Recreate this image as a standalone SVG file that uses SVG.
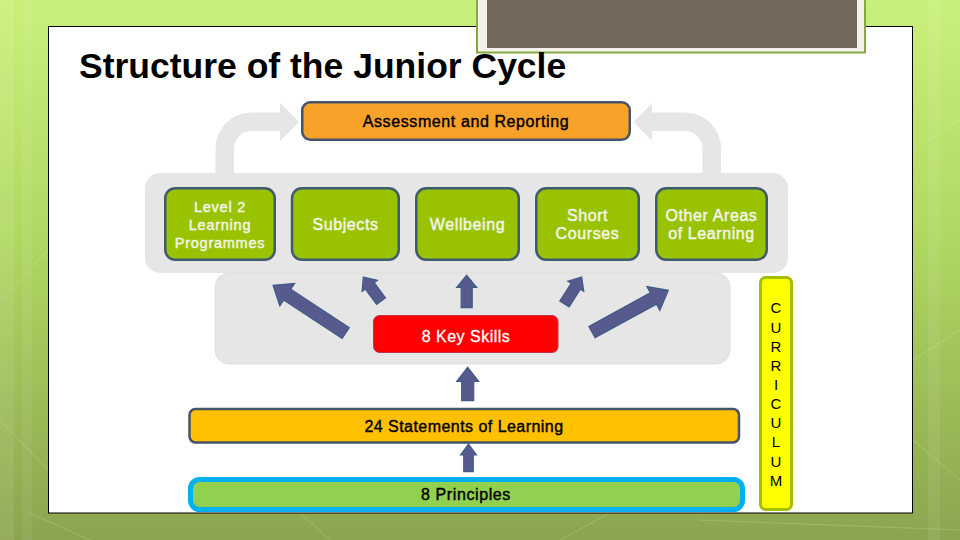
<svg xmlns="http://www.w3.org/2000/svg" width="960" height="540" viewBox="0 0 960 540">
  <defs>
    <linearGradient id="bg" x1="0" y1="0" x2="0" y2="1">
      <stop offset="0" stop-color="#c9f07b"/>
      <stop offset="0.45" stop-color="#afd762"/>
      <stop offset="1" stop-color="#8ba54f"/>
    </linearGradient>
    <style>
      .panel { fill:#e6e6e6; }
      .node rect { fill:#99c300; stroke:#3f5b6e; stroke-width:2.5; }
      .nt { font-family:"Liberation Sans", Arial, sans-serif; font-size:16px; letter-spacing:0.6px; fill:#f4f4ea; stroke:#f4f4ea; stroke-width:0.45px; text-anchor:middle; }
      .dt { font-family:"Liberation Sans", Arial, sans-serif; font-size:16px; letter-spacing:0.55px; fill:#000000; stroke:#000000; stroke-width:0.4px; text-anchor:middle; }
      .ct { font-family:"Liberation Sans", Arial, sans-serif; font-size:15px; fill:#000000; text-anchor:middle; }
      .ba { fill:#575a8c; stroke:#3e5c87; stroke-width:1.2; stroke-linejoin:miter; }
      .loop { fill:#e6e6e6; }
      .deco { stroke:#ffffff; stroke-opacity:0.18; stroke-width:1; fill:none; }
    </style>
  </defs>

  <!-- background -->
  <rect x="0" y="0" width="960" height="540" fill="url(#bg)"/>
  <rect x="0" y="0" width="14" height="540" fill="#ffffff" fill-opacity="0.08"/>
  <rect x="22" y="0" width="10" height="540" fill="#ffffff" fill-opacity="0.06"/>
  <rect x="928" y="0" width="12" height="540" fill="#ffffff" fill-opacity="0.07"/>
  <path class="deco" d="M0 300 L48 250 M0 420 L48 470 M30 513 L90 540 M300 513 L330 540 M610 513 L560 540 M700 520 L960 530 M913 360 L960 330 M913 150 L960 120 M913 440 L960 480"/>

  <!-- white slide panel -->
  <rect x="48.5" y="26.5" width="864" height="486.5" fill="#ffffff" stroke="#000000" stroke-width="1"/>

  <!-- top brown frame -->
  <rect x="477" y="-5" width="388" height="57.5" fill="#f3f1ea" stroke="#86a83c" stroke-width="2"/>
  <rect x="487" y="0" width="370" height="48" fill="#736a5b"/>

  <!-- title -->
  <text x="79" y="77.5" font-family="'Liberation Sans', Arial, sans-serif" font-weight="bold" font-size="35.5" fill="#000000">Structure of the Junior Cycle</text>

  <!-- grey backing panels -->
  <rect class="panel" x="145" y="173" width="643" height="100" rx="15"/>
  <rect class="panel" x="215" y="273" width="515" height="91" rx="14" stroke="#dcdcdc" stroke-width="0.8"/>

  <g id="connectors">
    <!-- grey loop arrows to Assessment and Reporting -->
    <path class="loop" d="M 234 175 L 234 148.5 A 17.5 17.5 0 0 1 251.5 131 L 280 131 L 280 141 L 299 122 L 280 103 L 280 112.5 L 251.5 112.5 A 36 36 0 0 0 215.5 148.5 L 215.5 175 Z"/>
    <path class="loop" d="M 702.5 175 L 702.5 148.5 A 17.5 17.5 0 0 0 685 131 L 652 131 L 652 141 L 633.5 122 L 652 103 L 652 112.5 L 685 112.5 A 36 36 0 0 1 721 148.5 L 721 175 Z"/>

    <!-- blue arrows from 8 Key Skills -->
    <polygon class="ba" transform="translate(273,285.3) rotate(-56.7)" points="0,0 13.5,17 6.5,17 6.5,87 -6.5,87 -6.5,17 -13.5,17"/>
    <polygon class="ba" transform="translate(363.3,277) rotate(-36.2)" points="0,0 9.5,11 5.5,11 5.5,30 -5.5,30 -5.5,11 -9.5,11"/>
    <polygon class="ba" transform="translate(466.7,275.3)" points="0,0 10,12 5.5,12 5.5,32.4 -5.5,32.4 -5.5,12 -10,12"/>
    <polygon class="ba" transform="translate(581.7,277) rotate(32.6)" points="0,0 9.5,11 5.5,11 5.5,32 -5.5,32 -5.5,11 -9.5,11"/>
    <polygon class="ba" transform="translate(668.3,290.3) rotate(61.3)" points="0,0 13.5,17 6.5,17 6.5,87 -6.5,87 -6.5,17 -13.5,17"/>

    <!-- Statements to Key Skills -->
    <polygon class="ba" transform="translate(467.7,367.3)" points="0,0 11,14 6,14 6,33.4 -6,33.4 -6,14 -11,14"/>
    <!-- Principles to Statements -->
    <polygon class="ba" transform="translate(468.5,444)" points="0,0 8,11 4.75,11 4.75,27.7 -4.75,27.7 -4.75,11 -8,11"/>
  </g>

  <g id="assessment">
    <rect x="302.25" y="102.25" width="327.5" height="37.5" rx="8" fill="#f9a229" stroke="#44546a" stroke-width="2.5"/>
    <text class="dt" x="466" y="127" style="letter-spacing:0.6px">Assessment and Reporting</text>
  </g>

  <g id="level2" class="node">
    <rect x="165.25" y="188.25" width="109.5" height="71.5" rx="10"/>
    <text class="nt" x="220" y="212" style="font-size:14.5px;letter-spacing:0.75px">Level 2</text>
    <text class="nt" x="220" y="230" style="font-size:14.5px;letter-spacing:0.75px">Learning</text>
    <text class="nt" x="220" y="247.5" style="font-size:14.5px;letter-spacing:0.75px">Programmes</text>
  </g>

  <g id="subjects" class="node">
    <rect x="292" y="188.25" width="106.75" height="71.5" rx="10"/>
    <text class="nt" x="345.5" y="230">Subjects</text>
  </g>

  <g id="wellbeing" class="node">
    <rect x="416.25" y="188.25" width="102.5" height="71.5" rx="10"/>
    <text class="nt" x="467.5" y="230">Wellbeing</text>
  </g>

  <g id="short-courses" class="node">
    <rect x="536.25" y="188.25" width="102.5" height="71.5" rx="10"/>
    <text class="nt" x="587.5" y="220.5">Short</text>
    <text class="nt" x="587.5" y="239">Courses</text>
  </g>

  <g id="other-areas" class="node">
    <rect x="656.25" y="188.25" width="110.5" height="71.5" rx="10"/>
    <text class="nt" x="711.5" y="220.5">Other Areas</text>
    <text class="nt" x="711.5" y="239">of Learning</text>
  </g>

  <g id="key-skills">
    <rect x="373.5" y="315.5" width="184.5" height="37" rx="6" fill="#ff0000" stroke="#c0314a" stroke-width="1"/>
    <text class="nt" x="466" y="342" style="fill:#ffffff;stroke:#ffffff;stroke-width:0.3px;letter-spacing:0.5px">8 Key Skills</text>
  </g>

  <g id="statements">
    <rect x="189.5" y="409" width="549.5" height="33.5" rx="6" fill="#ffc000" stroke="#44546a" stroke-width="2.5"/>
    <text class="dt" x="464" y="431.5" style="letter-spacing:0.46px">24 Statements of Learning</text>
  </g>

  <g id="principles">
    <rect x="190.5" y="479.5" width="552" height="30" rx="9" fill="#92d050" stroke="#00b0f0" stroke-width="5"/>
    <text class="dt" x="466" y="500" style="letter-spacing:0.6px">8 Principles</text>
  </g>

  <g id="curriculum">
    <rect x="760.5" y="277.5" width="31" height="232" rx="5" fill="#ffff00" stroke="#a2c000" stroke-width="3"/>
    <text class="ct" x="776" y="313.3">C</text>
    <text class="ct" x="776" y="332.5">U</text>
    <text class="ct" x="776" y="351.6">R</text>
    <text class="ct" x="776" y="370.8">R</text>
    <text class="ct" x="776" y="389.9">I</text>
    <text class="ct" x="776" y="409.1">C</text>
    <text class="ct" x="776" y="428.2">U</text>
    <text class="ct" x="776" y="447.4">L</text>
    <text class="ct" x="776" y="466.5">U</text>
    <text class="ct" x="776" y="485.7">M</text>
  </g>
</svg>
